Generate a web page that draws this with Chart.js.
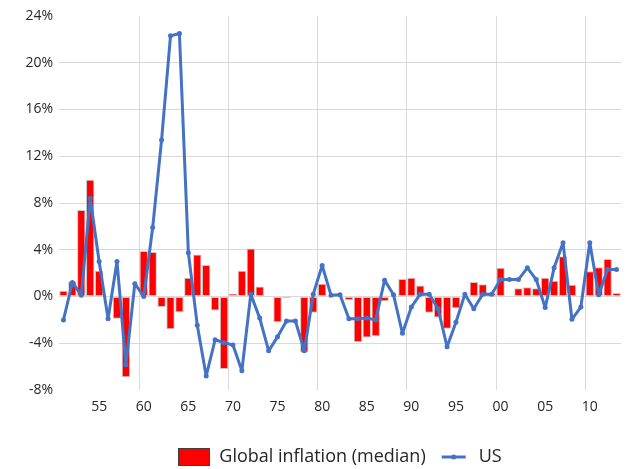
<!DOCTYPE html>
<html>
<head>
<meta charset="utf-8">
<script src="https://cdn.jsdelivr.net/npm/chart.js@4.4.0/dist/chart.umd.min.js"></script>
<style>
  html, body { margin: 0; padding: 0; background: #ffffff; }
  #wrap { width: 637px; height: 469px; }
</style>
</head>
<body>
<div id="wrap"><canvas id="c" width="637" height="469"></canvas></div>
<script>
const years = [1951,1952,1953,1954,1955,1956,1957,1958,1959,1960,
  1961,1962,1963,1964,1965,1966,1967,1968,1969,1970,
  1971,1972,1973,1974,1975,1976,1977,1978,1979,1980,
  1981,1982,1983,1984,1985,1986,1987,1988,1989,1990,
  1991,1992,1993,1994,1995,1996,1997,1998,1999,2000,
  2001,2002,2003,2004,2005,2006,2007,2008,2009,2010,
  2011,2012,2013];

const globalInflation = [0.5,1.3,7.4,10.0,2.2,0,-1.9,-6.9,0,3.9,
  3.8,-0.9,-2.8,-1.35,1.6,3.6,2.7,-1.2,-6.2,0.25,
  2.2,4.1,0.85,0,-2.2,-0.15,0,-4.8,-1.4,1.1,
  0,0,-0.3,-3.9,-3.5,-3.4,-0.4,0,1.5,1.6,
  0.95,-1.4,-1.8,-2.75,-1.0,0,1.25,1.05,0.3,2.45,
  0,0.7,0.8,0.7,1.6,1.35,3.45,1.0,0,2.15,
  2.5,3.2,0.3];

const usInflation = [-2.0,1.2,0.1,8.4,3.0,-1.9,3.0,-5.85,1.1,0,
  5.9,13.4,22.3,22.5,3.75,-2.45,-6.8,-3.7,-3.95,-4.15,
  -6.35,0.2,-1.85,-4.65,-3.45,-2.1,-2.1,-4.65,0.2,2.65,
  0.1,0.15,-1.9,-1.9,-1.85,-2.0,1.4,0.15,-3.15,-0.9,
  0.2,0.2,-1.05,-4.3,-2.2,0.2,-1.05,0.2,0.2,1.45,
  1.45,1.45,2.45,1.45,-0.95,2.45,4.6,-1.95,-0.9,4.6,
  0.15,2.3,2.3];

const xTickLabels = ['55','60','65','70','75','80','85','90','95','00','05','10'];
const xTickYears = [1955,1960,1965,1970,1975,1980,1985,1990,1995,2000,2005,2010];
const gridYears = [1960,1970,1980,1990,2000,2010];
const seriesNames = ['Global inflation (median)', 'US'];

const RED = '#FF0000';
const BLUE = '#4472C4';
const TEXT = '#262626';
const GRID = '#D9D9D9';
const CLEAR = 'rgba(0,0,0,0)';
const FONT = "'Open Sans', 'Noto Sans', sans-serif";

// legend icons
function makeBoxIcon() {
  const c = document.createElement('canvas');
  c.width = 32; c.height = 18;
  const g = c.getContext('2d');
  g.fillStyle = RED;
  g.fillRect(0, 0, 32, 18);
  g.strokeStyle = '#404040';
  g.lineWidth = 1;
  g.strokeRect(0.5, 0.5, 31, 17);
  return c;
}
function makeLineIcon() {
  const c = document.createElement('canvas');
  c.width = 26; c.height = 8;
  const g = c.getContext('2d');
  g.strokeStyle = BLUE;
  g.lineWidth = 3;
  g.beginPath(); g.moveTo(1, 4); g.lineTo(25, 4); g.stroke();
  g.fillStyle = BLUE;
  g.beginPath(); g.arc(13, 4, 2.5, 0, Math.PI * 2); g.fill();
  return c;
}
const icons = [makeBoxIcon(), makeLineIcon()];

new Chart(document.getElementById('c'), {
  type: 'bar',
  data: {
    labels: years.map(String),
    datasets: [
      {
        type: 'bar',
        label: seriesNames[0],
        data: globalInflation,
        backgroundColor: RED,
        borderColor: '#C8C8C8',
        borderWidth: 1,
        borderSkipped: false,
        barPercentage: 0.94,
        categoryPercentage: 1.0,
        order: 2
      },
      {
        type: 'line',
        label: seriesNames[1],
        data: usInflation,
        borderColor: BLUE,
        backgroundColor: BLUE,
        borderWidth: 3,
        borderJoinStyle: 'round',
        borderCapStyle: 'round',
        pointRadius: 2.5,
        pointBorderWidth: 0,
        pointBackgroundColor: BLUE,
        tension: 0,
        fill: false,
        order: 1
      }
    ]
  },
  options: {
    responsive: false,
    animation: false,
    devicePixelRatio: 1,
    layout: { padding: { top: 16, right: 16, bottom: 0, left: 0 } },
    scales: {
      x: {
        type: 'category',
        offset: true,
        grid: {
          offset: true,
          drawTicks: false,
          lineWidth: 1,
          color: (ctx) => {
            const yr = years[ctx.index];
            return gridYears.includes(yr) ? GRID : CLEAR;
          }
        },
        border: { display: false },
        ticks: {
          autoSkip: false,
          maxRotation: 0,
          minRotation: 0,
          padding: 9,
          color: TEXT,
          font: { family: FONT, size: 14 },
          callback: (v, i) => {
            const k = xTickYears.indexOf(years[i]);
            return k >= 0 ? xTickLabels[k] : '';
          }
        },
        afterFit: (s) => { s.height = 46; }
      },
      y: {
        type: 'linear',
        min: -8,
        max: 24,
        grid: {
          color: (ctx) => (ctx.tick && (ctx.tick.value === 24 || ctx.tick.value === -8)) ? CLEAR : GRID,
          lineWidth: 1,
          drawTicks: false
        },
        border: { display: false },
        ticks: {
          stepSize: 4,
          padding: 6,
          color: TEXT,
          font: { family: FONT, size: 14 },
          callback: (v) => v + '%'
        },
        afterFit: (s) => { s.width = 59; }
      }
    },
    plugins: {
      tooltip: { enabled: false },
      legend: {
        display: true,
        position: 'bottom',
        fullSize: false,
        maxHeight: 33,
        labels: {
          usePointStyle: true,
          pointStyleWidth: 32,
          padding: 12,
          color: TEXT,
          font: { family: FONT, size: 18 },
          sort: (a, b) => a.datasetIndex - b.datasetIndex,
          generateLabels: (chart) => {
            const items = Chart.defaults.plugins.legend.labels.generateLabels(chart);
            items.forEach(it => { it.pointStyle = icons[it.datasetIndex]; });
            return items;
          }
        }
      }
    }
  }
});
</script>
</body>
</html>
